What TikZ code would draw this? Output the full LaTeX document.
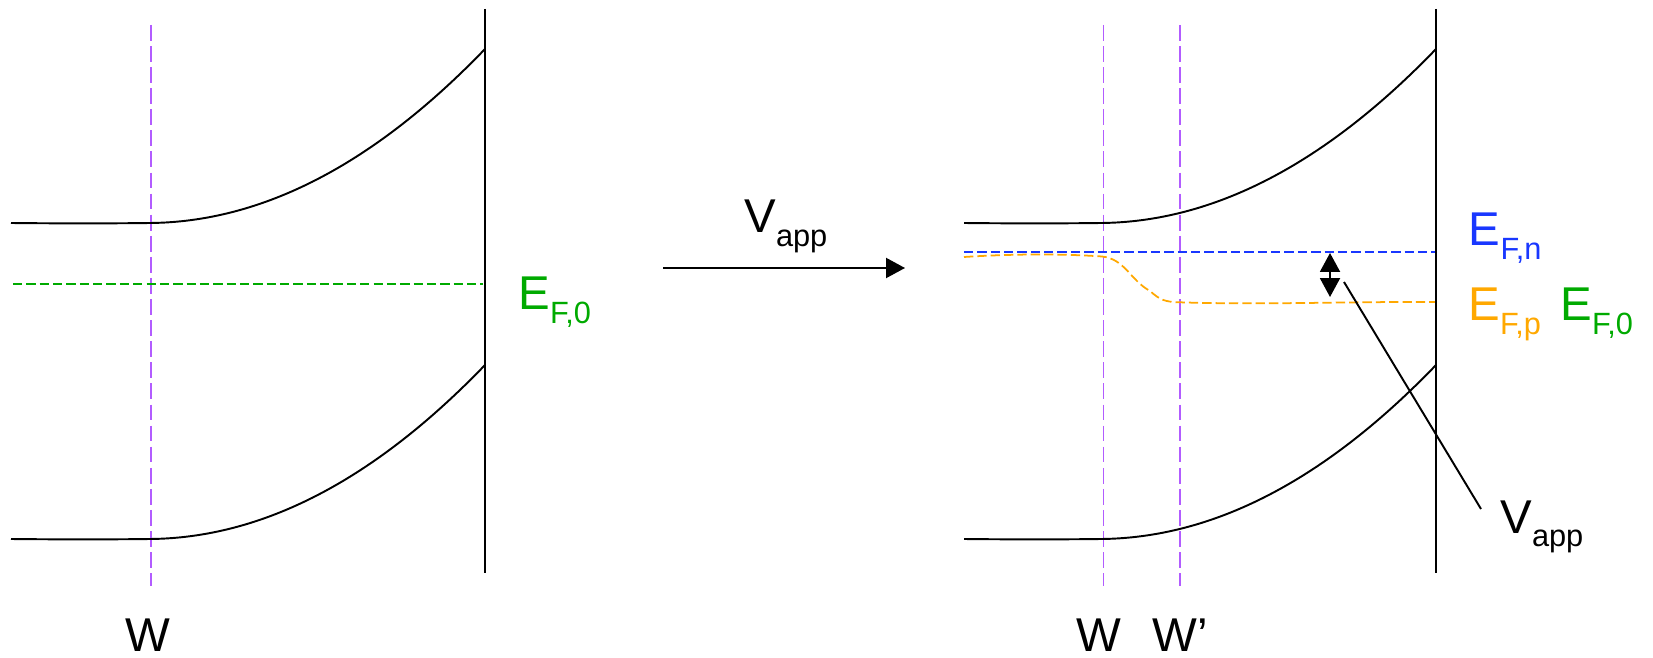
\documentclass[tikz,border=0pt]{standalone}
\usepackage{fontspec}
\setmainfont{Liberation Sans}
\usetikzlibrary{
	arrows.meta,
	positioning
}
\definecolor{DepthPurple}{RGB}{178,92,255}
\definecolor{FermiGreen}{RGB}{0,170,0}
\definecolor{FermiBlue}{RGB}{25,55,255}
\definecolor{FermiOrange}{RGB}{255,168,0}
\newcommand{\lvl}[2]{#1\raisebox{-7.6pt}{\fontsize{17.5}{19}\selectfont #2}}

\begin{document}
\begin{tikzpicture}[x=0.02cm, y=-0.02cm,
		band/.style={line width=1.1pt},
		wall/.style={line width=1.3pt},
		depth/.style={DepthPurple, line width=1pt, dash pattern=on 9pt off 3pt},
		fermi/.style={line width=1pt, dash pattern=on 5.3pt off 2.3pt},
		lbl/.style={inner sep=0pt, anchor=base west, font=\fontsize{27}{30}\selectfont},
		bigtip/.tip={Triangle[width=11.4pt, length=10.8pt]}]
		\useasboundingbox (0,0) rectangle (1653,658);
		% 平衡态
		\begin{scope}
			\draw[depth] (151,25) -- (151,586);
			\draw[band] (11,223) .. controls (60,223.5) and (110,223.5) .. (150,223)
				.. controls (261.7,222) and (373.3,165) .. (485,49);
			\draw[band] (11,539) .. controls (60,539.5) and (110,539.5) .. (150,539)
				.. controls (261.7,538) and (373.3,481) .. (485,365);
			\draw[fermi, FermiGreen] (13,284) -- (483,284);
			\draw[wall] (485,9) -- (485,573);
			\node[lbl, FermiGreen] (ef0L) at (518,310) {\lvl{E}{F,0}};
			\node[lbl, anchor=base] (wL) at (148,651) {W};
		\end{scope}
		% 外加电压
		\coordinate (arrS) at (663,268);
		\coordinate (arrE) at (905,268);
		\draw[-bigtip, line width=1.1pt] (arrS) -- (arrE);
		\node[lbl] (vappT) at (744,233) {\lvl{V}{app}};
		% 偏压下
		\begin{scope}[shift={(951,0)}]
			\draw[depth] (152.6,25) -- (152.6,586);
			\draw[depth] (228.7,25) -- (228.7,586);
			\draw[band] (13,223) .. controls (60,223.5) and (110,223.5) .. (150,223)
				.. controls (261.7,222) and (373.3,165) .. (485,49);
			\draw[band] (13,539) .. controls (60,539.5) and (110,539.5) .. (150,539)
				.. controls (261.7,538) and (373.3,481) .. (485,365);
			\draw[fermi, FermiBlue] (13,252) -- (485,252);
			\draw[fermi, FermiOrange] (13,257) .. controls (59,254) and (109,253.5) .. (151,256.5)
				.. controls (174,259) and (179,280) .. (199,291)
				.. controls (209,300) and (214,302) .. (229,302.3)
				.. controls (309,305) and (399,301.5) .. (485,302);
			\draw[wall] (485,9) -- (485,573);
			\coordinate (gapT) at (379,253);
			\coordinate (gapB) at (379,297);
			\draw[bigtip-bigtip, line width=1.1pt] (gapT) -- (gapB);
			\coordinate (callS) at (393,282);
			\coordinate (callE) at (530,509);
			\draw[line width=1.1pt] (callS) -- (callE);
			\node[lbl, FermiBlue] (efn) at (517.5,246) {\lvl{E}{F,n}};
			\node[lbl, FermiOrange] (efp) at (517,321) {\lvl{E}{F,p}};
			\node[lbl, FermiGreen] (ef0R) at (609,321) {\lvl{E}{F,0}};
			\node[lbl] (vappR) at (549,533) {\lvl{V}{app}};
			\node[lbl, anchor=base] (wR) at (148,651) {W};
			\node[lbl] (wpR) at (201,651) {W’};
		\end{scope}
	\end{tikzpicture}
\end{document}
